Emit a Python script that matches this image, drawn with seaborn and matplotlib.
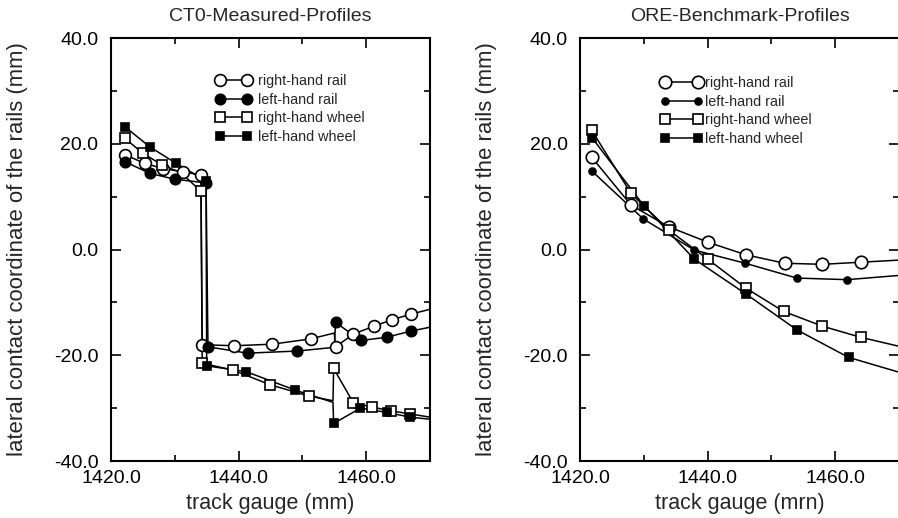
import numpy as np
import seaborn as sns
import matplotlib.pyplot as plt
import matplotlib.transforms as mtransforms
from matplotlib.lines import Line2D
from matplotlib.ticker import MultipleLocator, FormatStrFormatter

# CT0 measured profiles: each series has line vertices, marked flags say which carry a marker
ct0_rrail_x = [1422.2, 1425.3, 1428.2, 1431.3, 1434.1, 1434.3, 1439.3, 1445.3, 1451.3, 1455.0, 1455.2, 1458.0, 1461.2, 1464.0, 1467.1, 1470.0]
ct0_rrail_y = [17.9, 16.3, 15.3, 14.7, 14.1, -18.0, -18.2, -17.9, -16.9, -15.8, -18.4, -16.0, -14.5, -13.3, -12.2, -11.3]
ct0_rrail_m = [1, 1, 1, 1, 1, 1, 1, 1, 1, 0, 1, 1, 1, 1, 1, 0]

ct0_lrail_x = [1422.2, 1426.1, 1430.0, 1434.9, 1435.2, 1441.4, 1449.2, 1455.0, 1455.2, 1459.2, 1463.2, 1467.1, 1470.0]
ct0_lrail_y = [16.6, 14.4, 13.3, 12.6, -18.4, -19.6, -19.2, -18.5, -13.8, -17.2, -16.6, -15.4, -14.7]
ct0_lrail_m = [1, 1, 1, 1, 1, 1, 1, 0, 1, 1, 1, 1, 0]

ct0_rwheel_x = [1422.2, 1425.0, 1428.0, 1431.0, 1434.1, 1434.3, 1439.1, 1445.0, 1451.0, 1454.8, 1454.9, 1458.0, 1460.9, 1463.9, 1466.9, 1470.0]
ct0_rwheel_y = [21.0, 18.2, 16.0, 14.5, 11.0, -21.5, -22.8, -25.6, -27.7, -28.6, -22.5, -29.0, -29.8, -30.5, -31.1, -31.7]
ct0_rwheel_m = [1, 1, 1, 0, 1, 1, 1, 1, 1, 0, 1, 1, 1, 1, 1, 0]

ct0_lwheel_x = [1422.2, 1426.1, 1430.2, 1434.9, 1435.0, 1441.2, 1448.9, 1454.8, 1454.9, 1459.1, 1463.2, 1466.9, 1470.0]
ct0_lwheel_y = [23.2, 19.4, 16.3, 13.0, -22.0, -23.1, -26.6, -28.9, -32.9, -30.0, -30.8, -31.7, -32.1]
ct0_lwheel_m = [1, 1, 1, 1, 1, 1, 1, 0, 1, 1, 1, 1, 0]

# ORE benchmark profiles
ore_rrail_x = [1421.8, 1428.0, 1433.9, 1440.0, 1446.0, 1452.1, 1458.0, 1464.0, 1470.0]
ore_rrail_y = [17.5, 8.4, 4.3, 1.4, -1.0, -2.6, -2.8, -2.4, -2.0]
ore_rrail_m = [1, 1, 1, 1, 1, 1, 1, 1, 0]

ore_lrail_x = [1421.9, 1429.9, 1437.9, 1445.9, 1454.0, 1461.9, 1470.0]
ore_lrail_y = [14.8, 5.8, -0.1, -2.6, -5.4, -5.7, -4.9]
ore_lrail_m = [1, 1, 1, 1, 1, 1, 0]

ore_rwheel_x = [1421.8, 1428.0, 1434.0, 1440.0, 1446.0, 1451.9, 1458.0, 1464.0, 1470.0]
ore_rwheel_y = [22.6, 10.6, 3.6, -1.8, -7.3, -11.7, -14.5, -16.6, -18.3]
ore_rwheel_m = [1, 1, 1, 1, 1, 1, 1, 1, 0]

ore_lwheel_x = [1421.9, 1430.0, 1437.9, 1446.0, 1454.0, 1462.1, 1470.0]
ore_lwheel_y = [21.1, 8.3, -1.8, -8.4, -15.2, -20.4, -23.2]
ore_lwheel_m = [1, 1, 1, 1, 1, 1, 0]

labels = ["right-hand rail", "left-hand rail", "right-hand wheel", "left-hand wheel"]

sns.set_theme(style="ticks")
plt.rcParams['font.family'] = ['Liberation Sans', 'DejaVu Sans']


def draw_series(ax, xs, ys, marked, marker, fill, ms):
    # line through all vertices, markers only on the measured points
    sns.lineplot(x=xs, y=ys, ax=ax, sort=False, estimator=None,
                 color="black", linewidth=1.1, zorder=2)
    mx = [x for x, m in zip(xs, marked) if m]
    my = [y for y, m in zip(ys, marked) if m]
    sns.lineplot(x=mx, y=my, ax=ax, sort=False, estimator=None,
                 linestyle="none", marker=marker, markersize=ms,
                 markerfacecolor=fill, markeredgecolor="black",
                 markeredgewidth=1.2, color="black", zorder=3)
    return Line2D([], [], color="black", linewidth=1.1, marker=marker,
                  markersize=ms, markerfacecolor=fill,
                  markeredgecolor="black", markeredgewidth=1.2)


def style_axes(ax, title, xlabel):
    ax.set_xlim(1420, 1470)
    ax.set_ylim(-40, 40)
    ax.xaxis.set_major_locator(MultipleLocator(20))
    ax.xaxis.set_minor_locator(MultipleLocator(10))
    ax.yaxis.set_major_locator(MultipleLocator(20))
    ax.yaxis.set_minor_locator(MultipleLocator(10))
    ax.xaxis.set_major_formatter(FormatStrFormatter('%.1f'))
    ax.yaxis.set_major_formatter(FormatStrFormatter('%.1f'))
    ax.tick_params(which="both", direction="in", top=True, right=True,
                   width=1.2, colors="black", labelsize=14)
    ax.tick_params(axis="x", which="both", pad=6.5)
    ax.tick_params(axis="y", which="both", pad=9)
    ax.tick_params(which="major", length=7)
    ax.tick_params(which="minor", length=4)
    for s in ax.spines.values():
        s.set_linewidth(1.5)
        s.set_color("black")
    ax.set_title(title, fontsize=14, pad=12)
    ax.set_xlabel(xlabel, fontsize=15.5, labelpad=4)
    ax.set_ylabel("lateral contact coordinate of the rails (mm)", fontsize=15.9)
    ax.yaxis.set_label_coords(-0.26, 0.5)


fig = plt.figure(figsize=(8.98, 5.18), dpi=100)
ax1 = fig.add_axes([0.1236, 0.110, 0.3552, 0.8166])
ax2 = fig.add_axes([0.6459, 0.110, 0.3552, 0.8166])

h1 = [
    draw_series(ax1, ct0_rrail_x, ct0_rrail_y, ct0_rrail_m, "o", "white", 8.5),
    draw_series(ax1, ct0_lrail_x, ct0_lrail_y, ct0_lrail_m, "o", "black", 7.5),
    draw_series(ax1, ct0_rwheel_x, ct0_rwheel_y, ct0_rwheel_m, "s", "white", 7),
    draw_series(ax1, ct0_lwheel_x, ct0_lwheel_y, ct0_lwheel_m, "s", "black", 6),
]
h2 = [
    draw_series(ax2, ore_rrail_x, ore_rrail_y, ore_rrail_m, "o", "white", 9),
    draw_series(ax2, ore_lrail_x, ore_lrail_y, ore_lrail_m, "o", "black", 5),
    draw_series(ax2, ore_rwheel_x, ore_rwheel_y, ore_rwheel_m, "s", "white", 6.5),
    draw_series(ax2, ore_lwheel_x, ore_lwheel_y, ore_lwheel_m, "s", "black", 6),
]

style_axes(ax1, "CT0-Measured-Profiles", "track gauge (mm)")
style_axes(ax2, "ORE-Benchmark-Profiles", "track gauge (mrn)")

# lift the bottom y tick label a little so it clears the first x tick label
lift = mtransforms.ScaledTranslation(0, 4 / 72, fig.dpi_scale_trans)
for ax in (ax1, ax2):
    bottom_label = ax.yaxis.get_major_ticks()[0].label1
    bottom_label.set_transform(bottom_label.get_transform() + lift)

legend_kw = dict(numpoints=2, frameon=False, fontsize=10.4,
                 labelspacing=0.32, borderpad=0, borderaxespad=0,
                 loc="upper left")
ax1.legend(h1, labels, bbox_to_anchor=(0.328, 0.915),
           handlelength=2.5, handletextpad=0.4, **legend_kw)
ax2.legend(h2, labels, bbox_to_anchor=(0.253, 0.91),
           handlelength=2.9, handletextpad=0.2, **legend_kw)

fig.savefig("out.png", dpi=100)
